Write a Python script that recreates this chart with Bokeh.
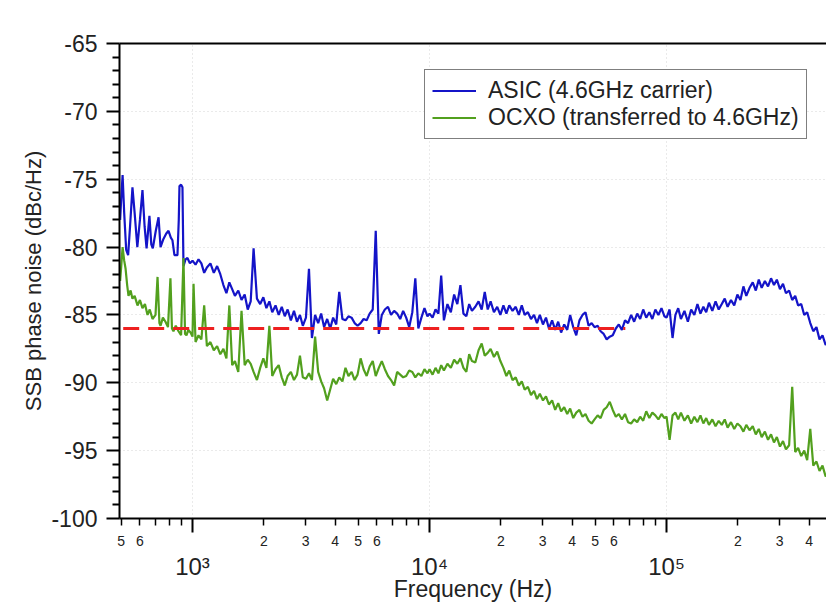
from bokeh.plotting import figure
from bokeh.models import (Range1d, FixedTicker, LogAxis, LinearAxis, Legend,
                          LegendItem, ColumnDataSource)
from bokeh.embed import file_html
from bokeh.resources import INLINE

# ---------------- data ----------------
# ASIC (4.6 GHz carrier)
ASIC_F_LOW = [495, 500, 507, 515, 525, 535, 545, 558, 570, 585, 600, 615, 628, 640, 658,
              670, 680, 700, 719, 733, 754, 775, 792, 810, 823, 839, 864, 875, 881, 895,
              907, 916, 935, 952, 975]
ASIC_DB_LOW = [-78.0, -76.5, -74.7, -77.5, -80.2, -80.6, -78.5, -75.6, -77.5, -80.0, -78.0,
               -75.8, -78.5, -80.1, -77.7, -79.8, -80.1, -78.8, -77.8, -80.0, -79.4, -79.0,
               -78.8, -79.3, -79.5, -80.6, -80.6, -78.0, -75.5, -75.4, -75.6, -81.4, -80.9,
               -80.8, -81.2]

F_DEC1 = [1000, 1030, 1060, 1090, 1120, 1150, 1190, 1230, 1270, 1310, 1350, 1390, 1430,
          1470, 1510, 1560, 1610, 1660, 1710, 1760, 1810, 1870, 1930, 1990, 2050, 2110,
          2170, 2240, 2310, 2380, 2450, 2520, 2600, 2680, 2760, 2840, 2920, 3010, 3100,
          3190, 3290, 3390, 3490, 3590, 3700, 3810, 3920, 4040, 4160, 4290, 4420, 4550,
          4690, 4830, 4970, 5120, 5270, 5430, 5590, 5760, 5930, 6110, 6290, 6480, 6680,
          6880, 7090, 7300, 7520, 7740, 7970, 8210, 8460, 8710, 8970, 9240, 9520, 9800]
F_DEC2 = [10000, 10300, 10600, 10900, 11200, 11500, 11900, 12300, 12700, 13100, 13500,
          13900, 14300, 14700, 15100, 15600, 16100, 16600, 17100, 17600, 18100, 18700,
          19300, 19900, 20500, 21100, 21700, 22400, 23100, 23800, 24500, 25200, 26000,
          26800, 27600, 28400, 29200, 30100, 31000, 31900, 32900, 33900, 34900, 35900,
          37000, 38100, 39200, 40400, 41600, 42900, 44200, 45500, 46900, 48300, 49700,
          51200, 52700, 54300, 55900, 57600, 59300, 61100, 62900, 64800, 66800, 68800,
          70900, 73000, 75200, 77400, 79700, 82100, 84600, 87100, 89700, 92400, 95200, 98000]
F_DEC3 = [100000, 103000, 106000, 109000, 112000, 115000, 119000, 123000, 127000, 131000,
          135000, 139000, 143000, 147000, 151000, 156000, 161000, 166000, 171000, 176000,
          181000, 187000, 193000, 199000, 205000, 211000, 217000, 224000, 231000, 238000,
          245000, 252000, 260000, 268000, 276000, 284000, 292000, 301000, 310000, 319000,
          329000, 339000, 349000, 359000, 370000, 381000, 392000, 404000, 416000, 429000,
          442000, 455000, 469000, 483000]

ASIC_DB_DEC1 = [-81.0, -81.3, -80.9, -81.2, -81.9, -81.5, -81.2, -81.9, -81.4, -82.0,
                -82.8, -83.4, -82.6, -83.1, -83.6, -83.2, -83.9, -83.5, -84.6, -84.0,
                -80.1, -83.8, -84.2, -83.7, -84.5, -84.0, -84.8, -84.3, -85.0, -84.4,
                -85.1, -84.6, -85.4, -84.7, -85.5, -85.0, -85.8, -85.2, -81.6, -86.7,
                -85.0, -85.6, -84.9, -85.9, -85.3, -86.0, -85.2, -85.7, -83.3, -85.3,
                -85.4, -85.1, -85.2, -85.6, -85.8, -85.6, -85.3, -85.4, -84.9, -84.6,
                -78.8, -86.4, -85.0, -84.6, -84.4, -85.0, -84.7, -84.9, -85.3, -84.7,
                -85.2, -85.9, -84.8, -82.3, -86.0, -85.2, -84.5, -85.1]
ASIC_DB_DEC2 = [-84.9, -85.2, -84.6, -84.9, -82.1, -85.4, -84.2, -84.8, -83.5, -84.2,
                -82.8, -84.9, -85.1, -84.2, -84.7, -84.4, -84.0, -84.6, -83.3, -84.6,
                -84.0, -84.8, -84.4, -85.0, -84.3, -84.9, -84.3, -84.7, -84.4, -85.0,
                -84.3, -85.0, -84.8, -85.3, -85.0, -85.6, -85.0, -85.7, -85.2, -86.0,
                -85.4, -86.1, -85.5, -86.3, -85.7, -86.1, -85.0, -85.9, -86.5, -85.4,
                -85.0, -84.8, -85.8, -85.6, -85.9, -85.8, -86.2, -86.4, -86.8, -86.6,
                -86.5, -86.0, -85.7, -86.1, -85.4, -85.6, -85.0, -85.5, -84.9, -85.3,
                -84.6, -85.2, -84.8, -85.3, -84.6, -85.0, -84.5, -85.1]
ASIC_DB_DEC3 = [-85.2, -84.6, -86.7, -85.0, -84.5, -85.3, -84.7, -85.5, -84.6, -85.0,
                -84.2, -84.9, -84.4, -84.8, -84.1, -84.7, -84.0, -84.6, -84.2, -83.8,
                -84.4, -83.9, -84.3, -83.5, -83.9, -82.9, -83.6, -83.0, -82.6, -83.2,
                -82.4, -83.0, -82.5, -82.9, -82.3, -82.8, -82.4, -83.1, -82.7, -83.4,
                -83.2, -83.9, -83.6, -84.3, -84.2, -85.0, -84.8, -85.6, -86.2, -85.9,
                -86.8, -86.5, -87.2, -87.0]

# OCXO (transferred to 4.6 GHz)
OCXO_F_LOW = [495, 500, 507, 515, 522, 530, 537, 548, 558, 570, 586, 600, 615, 630, 646,
              660, 678, 698, 712, 725, 733, 750, 769, 788, 807, 819, 831, 850, 873, 895,
              916, 930, 943, 960, 981, 1000, 1010]
OCXO_DB_LOW = [-82.5, -81.5, -80.0, -81.0, -81.6, -82.8, -83.6, -83.2, -83.8, -83.6, -84.3,
               -83.9, -84.5, -84.2, -85.0, -84.6, -85.3, -85.0, -82.2, -85.6, -85.8, -85.2,
               -85.5, -85.9, -82.3, -86.0, -86.2, -85.8, -86.2, -86.5, -80.8, -86.4, -86.5,
               -86.1, -86.3, -86.6, -82.7]
OCXO_DB_DEC1 = [-87.0, -86.5, -86.8, -84.3, -87.3, -87.0, -87.6, -87.3, -87.9,
                -87.5, -88.2, -84.3, -88.7, -88.4, -89.2, -84.7, -88.7, -88.3, -88.6,
                -89.2, -89.8, -88.9, -88.2, -88.9, -85.8, -89.5, -89.0, -88.7, -89.6,
                -90.2, -89.5, -89.2, -89.8, -89.4, -88.0, -89.6, -89.7, -89.3, -89.8,
                -86.6, -89.2, -89.9, -90.4, -91.3, -90.5, -89.7, -90.1, -89.6, -89.9,
                -88.9, -89.5, -89.2, -89.8, -89.4, -88.2, -89.0, -89.5, -88.8, -88.4,
                -89.5, -88.9, -88.4, -89.0, -89.5, -89.8, -90.2, -89.2, -89.4, -89.6,
                -89.5, -89.1, -89.2, -89.6, -89.3, -89.5, -89.0, -89.3]
OCXO_DB_DEC2 = [-89.0, -89.4, -88.9, -89.3, -88.7, -89.1, -88.6, -88.9, -88.3, -88.6,
                -88.2, -88.9, -89.2, -87.9, -88.4, -88.5, -87.6, -87.1, -88.0, -87.8,
                -87.5, -88.1, -87.7, -88.4, -88.9, -89.5, -89.1, -89.8, -89.6, -90.2,
                -89.9, -90.5, -90.3, -90.9, -90.6, -91.2, -90.8, -91.3, -91.0, -91.6,
                -91.3, -92.0, -91.5, -92.1, -91.8, -92.3, -91.9, -92.6, -92.2, -92.0,
                -92.5, -92.3, -92.8, -93.0, -92.7, -92.4, -92.6, -92.0, -91.8, -91.4,
                -92.0, -92.5, -92.3, -92.7, -92.3, -92.9, -93.0, -92.7, -92.9, -92.5,
                -92.8, -92.1, -92.6, -92.2, -92.4, -92.7, -92.3, -92.6]
OCXO_DB_DEC3 = [-92.5, -94.2, -92.4, -92.2, -92.7, -92.2, -92.8, -92.4, -93.0, -92.5,
                -92.9, -92.4, -93.0, -92.6, -93.1, -92.7, -93.2, -92.8, -93.1, -92.7,
                -93.3, -92.9, -93.4, -93.0, -93.2, -93.6, -93.1, -93.5, -93.2, -93.8,
                -93.4, -94.0, -93.6, -94.2, -93.8, -94.4, -94.0, -94.7, -94.3, -94.9,
                -94.6, -90.3, -95.1, -94.8, -95.4, -95.0, -95.7, -93.4, -96.1, -95.8,
                -96.5, -96.1, -96.9, -96.6]

# dashed reference level
REF_F = [510, 67000]
REF_DB = [-86.0, -86.0]

# axes ticks / labels
Y_TICKS = [-100, -95, -90, -85, -80, -75, -70, -65]
Y_MINOR = [v for v in range(-100, -64) if v % 5 != 0]
X_DECADES = [1000, 10000, 100000]
X_DECADE_LABELS = ["10\u00b3", "10\u2074", "10\u2075"]
X_SUB_TICKS = [500, 600, 700, 800, 900,
               2000, 3000, 4000, 5000, 6000, 7000, 8000, 9000,
               20000, 30000, 40000, 50000, 60000, 70000, 80000, 90000,
               200000, 300000, 400000]
X_SUB_LABELS = ["5", "6", "", "", "",
                "2", "3", "4", "5", "6", "", "", "",
                "2", "3", "4", "5", "6", "", "", "",
                "2", "3", "4"]

FONT = "Liberation Sans"
TXT = "#222222"

asic_f = ASIC_F_LOW + F_DEC1 + F_DEC2 + F_DEC3
asic_db = ASIC_DB_LOW + ASIC_DB_DEC1 + ASIC_DB_DEC2 + ASIC_DB_DEC3
ocxo_f = OCXO_F_LOW + F_DEC1[1:] + F_DEC2 + F_DEC3
ocxo_db = OCXO_DB_LOW + OCXO_DB_DEC1 + OCXO_DB_DEC2 + OCXO_DB_DEC3

p = figure(width=826, height=604, x_axis_type="log",
           x_range=Range1d(492, 473000), y_range=Range1d(-100, -65),
           output_backend="svg", toolbar_location=None,
           min_border_left=119, min_border_right=0, min_border_top=43,
           min_border_bottom=0)
p.outline_line_color = None
p.background_fill_color = "white"
p.border_fill_color = "white"

# grids
p.xgrid.ticker = FixedTicker(ticks=X_DECADES)
p.ygrid.ticker = FixedTicker(ticks=Y_TICKS[1:-1])
for g in (p.xgrid[0], p.ygrid[0]):
    g.grid_line_color = "#d4d4d4"
    g.grid_line_dash = "1 3"
    g.grid_line_width = 1

# lines
src_a = ColumnDataSource(dict(f=asic_f, db=asic_db))
src_o = ColumnDataSource(dict(f=ocxo_f, db=ocxo_db))
r_a = p.line("f", "db", source=src_a, line_color="#1414c8", line_width=2.2)
r_o = p.line("f", "db", source=src_o, line_color="#52a01e", line_width=2.2)
p.line(REF_F, REF_DB, line_color="#ee2020", line_width=3, line_dash="16 9")

# bottom axis A: sub-decade ticks with small labels, long decade ticks
ax = p.xaxis[0]
ax.ticker = FixedTicker(ticks=X_SUB_TICKS, minor_ticks=X_DECADES)
ax.major_label_overrides = {t: l for t, l in zip(X_SUB_TICKS, X_SUB_LABELS)}
ax.major_tick_out = 7
ax.major_tick_in = 0
ax.minor_tick_out = 14
ax.minor_tick_in = 0
ax.major_tick_line_width = 1.5
ax.minor_tick_line_width = 2
ax.axis_line_width = 2
ax.major_label_text_font = FONT
ax.major_label_text_font_size = "14px"
ax.major_label_text_color = TXT
ax.major_label_standoff = 3

# bottom axis B: decade labels + axis title
axb = LogAxis(ticker=FixedTicker(ticks=X_DECADES, minor_ticks=[]),
              major_label_overrides={t: l for t, l in zip(X_DECADES, X_DECADE_LABELS)},
              axis_line_color=None, major_tick_line_color=None,
              minor_tick_line_color=None, major_tick_out=0, major_tick_in=0,
              major_label_standoff=4,
              major_label_text_font=FONT, major_label_text_font_size="24px",
              major_label_text_color=TXT,
              axis_label="Frequency (Hz)", axis_label_text_font=FONT,
              axis_label_text_font_size="23px", axis_label_text_font_style="normal",
              axis_label_text_color=TXT, axis_label_standoff=-7)
p.add_layout(axb, "below")

# left axis
ay = p.yaxis[0]
ay.ticker = FixedTicker(ticks=Y_TICKS, minor_ticks=Y_MINOR)
ay.major_label_overrides = {t: str(t) for t in Y_TICKS}
ay.major_tick_out = 13
ay.major_tick_in = 0
ay.minor_tick_out = 7
ay.minor_tick_in = 0
ay.major_tick_line_width = 2
ay.minor_tick_line_width = 2
ay.axis_line_width = 2
ay.major_label_text_font = FONT
ay.major_label_text_font_size = "23px"
ay.major_label_text_color = TXT
ay.major_label_standoff = 9
ay.axis_label = "SSB phase noise (dBc/Hz)"
ay.axis_label_text_font = FONT
ay.axis_label_text_font_size = "22px"
ay.axis_label_text_font_style = "normal"
ay.axis_label_text_color = TXT
ay.axis_label_standoff = 2

# top frame line
top = LinearAxis(ticker=FixedTicker(ticks=[]), axis_line_width=2,
                 major_tick_line_color=None, minor_tick_line_color=None,
                 major_label_text_font_size="0px")
p.add_layout(top, "above")

legend = Legend(items=[LegendItem(label="ASIC (4.6GHz carrier)", renderers=[r_a]),
                       LegendItem(label="OCXO (transferred to 4.6GHz)", renderers=[r_o])],
                location=(305, 379), border_line_color="black", border_line_width=1.5,
                label_text_font=FONT, label_text_font_size="23px",
                label_text_color=TXT,
                glyph_width=44, glyph_height=25, label_height=25, spacing=0,
                padding=7, margin=0, label_standoff=12,
                background_fill_color="white", background_fill_alpha=1.0)
p.add_layout(legend)

open("out.html", "w").write(file_html(p, INLINE))
